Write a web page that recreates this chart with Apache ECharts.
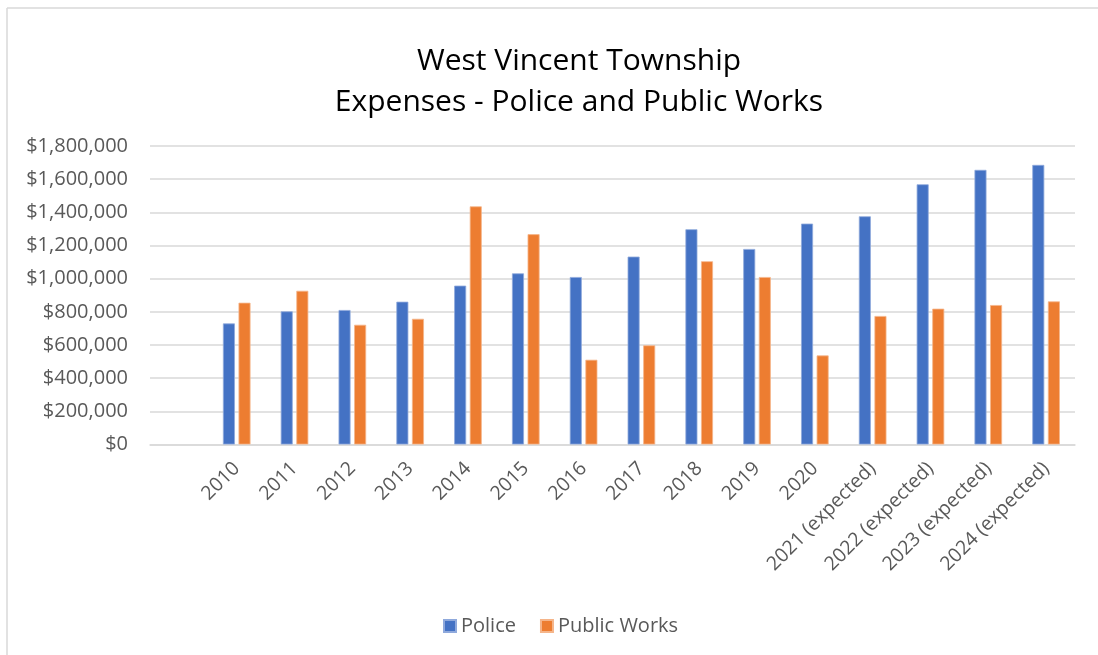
<!DOCTYPE html>
<html>
<head>
<meta charset="utf-8">
<script src="https://cdn.jsdelivr.net/npm/echarts@6/dist/echarts.min.js"></script>
<style>
html,body{margin:0;padding:0;background:#fff;}
#chart{width:1098px;height:655px;}
</style>
</head>
<body>
<div id="chart"></div>
<script>
const categories = ['', '2010', '2011', '2012', '2013', '2014', '2015', '2016', '2017', '2018', '2019', '2020',
  '2021 (expected)', '2022 (expected)', '2023 (expected)', '2024 (expected)'];
const police = [null, 730000, 803000, 811000, 861000, 958000, 1032000, 1010000, 1133000, 1298000, 1179000,
  1332000, 1376000, 1569000, 1656000, 1686000];
const publicWorks = [null, 855000, 927000, 722000, 758000, 1436000, 1268000, 511000, 598000, 1105000, 1010000,
  537000, 775000, 819000, 841000, 863000];
const yTicks = { min: 0, max: 1800000, interval: 200000 };

const chart = echarts.init(document.getElementById('chart'));
const font = '"Open Sans", "Noto Sans", sans-serif';
chart.setOption({
  animation: false,
  backgroundColor: '#fff',
  graphic: [
    { type: 'line', shape: { x1: 7, y1: 8, x2: 1098, y2: 8 }, style: { stroke: '#d9d9d9', lineWidth: 1.5 } },
    { type: 'line', shape: { x1: 7, y1: 8, x2: 7, y2: 655 }, style: { stroke: '#d9d9d9', lineWidth: 1.5 } }
  ],
  title: {
    text: 'West Vincent Township\nExpenses - Police and Public Works',
    left: 574, top: 36, textAlign: 'center',
    textStyle: { fontFamily: font, fontSize: 30, fontWeight: 'normal', color: '#000', lineHeight: 41 }
  },
  legend: {
    data: ['Police', 'Public Works'],
    left: 438, top: 611, icon: 'rect', itemWidth: 12, itemHeight: 12, itemGap: 24,
    textStyle: { fontFamily: font, fontSize: 20, color: '#595959' }
  },
  grid: { left: 150, right: 23, top: 146, bottom: 210.5, containLabel: false },
  xAxis: {
    type: 'category', data: categories,
    axisLine: { lineStyle: { color: '#d9d9d9', width: 1.5 } },
    axisTick: { show: false },
    axisLabel: { rotate: 45, interval: 0, margin: 21, fontFamily: font, fontSize: 19.5, color: '#595959' }
  },
  yAxis: {
    type: 'value', min: yTicks.min, max: yTicks.max, interval: yTicks.interval,
    axisLine: { show: false }, axisTick: { show: false },
    splitLine: { lineStyle: { color: '#d9d9d9', width: 1.5 } },
    axisLabel: {
      margin: 22, fontFamily: font, fontSize: 20, color: '#595959',
      formatter: v => '$' + v.toLocaleString('en-US')
    }
  },
  series: [
    { name: 'Police', type: 'bar', data: police, barWidth: 12, barGap: '30%',
      itemStyle: { color: '#4472C4', borderColor: '#8fa9dc', borderWidth: 0.8 } },
    { name: 'Public Works', type: 'bar', data: publicWorks, barWidth: 12, barGap: '30%',
      itemStyle: { color: '#ED7D31', borderColor: '#f5b58a', borderWidth: 0.8 } }
  ]
});
</script>
</body>
</html>
